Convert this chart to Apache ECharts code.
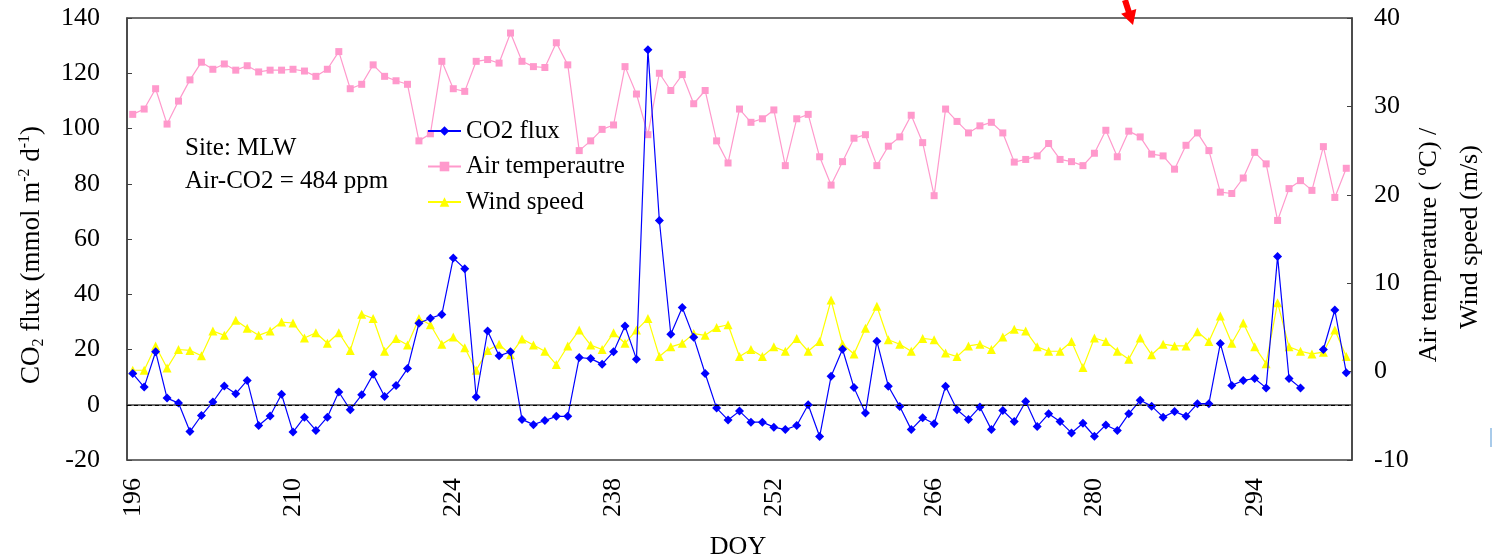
<!DOCTYPE html>
<html>
<head>
<meta charset="utf-8">
<script src="https://cdn.jsdelivr.net/npm/echarts@6/dist/echarts.min.js"></script>
<style>
  html, body { margin: 0; padding: 0; background: #fff; }
  #chart { width: 1495px; height: 560px; }
</style>
</head>
<body>
<div id="chart"></div>
<script>
// Day of year, one category per day
const doy = [
  196,197,198,199,200,201,202,203,204,205,206,207,208,209,
  210,211,212,213,214,215,216,217,218,219,220,221,222,223,
  224,225,226,227,228,229,230,231,232,233,234,235,236,237,
  238,239,240,241,242,243,244,245,246,247,248,249,250,251,
  252,253,254,255,256,257,258,259,260,261,262,263,264,265,
  266,267,268,269,270,271,272,273,274,275,276,277,278,279,
  280,281,282,283,284,285,286,287,288,289,290,291,292,293,
  294,295,296,297,298,299,300,301,302
];

// CO2 flux (mmol m-2 d-1); null = no measurement
const co2Flux = [
  11.3, 6.4, 19.2, 2.4, 0.6, -9.7, -3.9, 1.0, 6.8, 4.0, 8.8, -7.5, -4.1, 3.8,
  -9.9, -4.5, -9.3, -4.5, 4.6, -1.8, 3.6, 11.0, 3.0, 7.0, 13.1, 29.5, 31.3, 32.7,
  53.1, 49.2, 2.8, 26.7, 17.7, 19.2, -5.3, -7.2, -5.7, -4.2, -4.2, 17.1, 16.7, 14.7,
  19.2, 28.5, 16.5, 128.5, 66.7, 25.5, 35.2, 24.4, 11.3, -1.2, -5.5, -2.3, -6.3, -6.3,
  -8.1, -9.0, -7.5, 0, -11.5, 10.3, 20.1, 6.2, -3.0, 23.0, 6.7, -0.6, -9.0, -4.7,
  -6.9, 6.7, -1.8, -5.3, -0.8, -9.0, -2.1, -6.1, 1.2, -7.9, -3.3, -6.1, -10.2, -6.7,
  -11.4, -7.3, -9.3, -3.3, 1.6, -0.5, -4.5, -2.4, -4.2, 0.4, 0.4, 22.2, 7.0, 8.8,
  9.5, 6.1, 53.7, 9.5, 6.1, null, 20.0, 34.3, 11.6
];

// Air temperature (°C)
const airTemp = [
  29.1, 29.7, 32.0, 28.0, 30.6, 33.0, 35.0, 34.2, 34.8, 34.1, 34.6, 33.9, 34.1, 34.1,
  34.2, 34.0, 33.4, 34.2, 36.2, 32.0, 32.5, 34.7, 33.4, 32.9, 32.5, 26.1, 26.9, 35.1,
  32.0, 31.7, 35.1, 35.3, 34.9, 38.3, 35.1, 34.5, 34.4, 37.2, 34.7, 25.0, 26.1, 27.4,
  27.9, 34.5, 31.4, 26.8, 33.75, 31.8, 33.6, 30.3, 31.8, 26.1, 23.6, 29.7, 28.2, 28.6,
  29.6, 23.3, 28.6, 29.1, 24.3, 21.1, 23.75, 26.4, 26.8, 23.3, 25.5, 26.55, 29.0, 25.9,
  19.9, 29.7, 28.3, 27.0, 27.8, 28.2, 27.0, 23.7, 24.0, 24.4, 25.8, 24.0, 23.75, 23.3,
  24.7, 27.3, 24.3, 27.2, 26.55, 24.6, 24.4, 22.9, 25.6, 27.0, 25.0, 20.3, 20.15, 21.9,
  24.8, 23.5, 17.1, 20.7, 21.6, 20.5, 25.45, 19.7, 23.0
];

// Wind speed (m/s)
const windSpeed = [
  0.15, 0.15, 2.9, 0.4, 2.5, 2.4, 1.8, 4.6, 4.1, 5.8, 4.9, 4.1, 4.6, 5.6,
  5.5, 3.8, 4.4, 3.2, 4.4, 2.4, 6.5, 6.0, 2.3, 3.75, 3.0, 6.0, 5.3, 3.1,
  3.9, 2.7, 0.15, 2.4, 3.1, 1.9, 3.7, 3.0, 2.3, 0.8, 2.9, 4.7, 3.0, 2.5,
  4.4, 3.2, 4.7, 6.0, 1.7, 2.8, 3.2, 4.3, 4.1, 5.0, 5.3, 1.7, 2.5, 1.7,
  2.8, 2.3, 3.75, 2.3, 3.4, 8.1, 3.1, 2.0, 4.9, 7.4, 3.6, 3.1, 2.3, 3.75,
  3.6, 2.1, 1.7, 2.9, 3.1, 2.5, 3.9, 4.8, 4.6, 2.8, 2.3, 2.3, 3.4, 0.45,
  3.8, 3.4, 2.3, 1.4, 3.8, 1.9, 3.1, 2.9, 2.9, 4.5, 3.4, 6.3, 3.2, 5.5,
  2.8, 0.9, 7.8, 2.8, 2.3, 2.0, 2.2, 4.7, 1.7
];

const seriesNames = ['CO2 flux', 'Air temperautre', 'Wind speed'];

const FONT = "'Liberation Serif', 'Times New Roman', serif";
const frameColor = '#404040';

const chart = echarts.init(document.getElementById('chart'));

const supSub = {
  s: { fontSize: 16, fontFamily: FONT, color: '#000', verticalAlign: 'bottom', lineHeight: 30 },
  p: { fontSize: 16, fontFamily: FONT, color: '#000', verticalAlign: 'top', lineHeight: 30 }
};

chart.setOption({
  animation: false,
  backgroundColor: '#fff',
  grid: {
    left: 127, right: 143, top: 18, bottom: 100,
    show: true, borderColor: frameColor, borderWidth: 1.5, backgroundColor: '#fff'
  },
  legend: {
    orient: 'vertical',
    left: 422, top: 113,
    itemWidth: 33, itemHeight: 12, itemGap: 9.5,
    data: seriesNames,
    textStyle: { fontFamily: FONT, fontSize: 25, color: '#000', lineHeight: 26 }
  },
  xAxis: {
    type: 'category',
    data: doy,
    boundaryGap: true,
    axisLine: { show: true, lineStyle: { color: frameColor, width: 1.5 } },
    axisTick: { show: false },
    axisLabel: {
      interval: 13, rotate: 90, margin: 18,
      fontFamily: FONT, fontSize: 26, color: '#000'
    },
    splitLine: { show: false }
  },
  yAxis: [
    {
      type: 'value', position: 'left',
      min: -20, max: 140, interval: 20,
      axisLine: { show: true, lineStyle: { color: frameColor, width: 1.5 } },
      axisTick: { show: true, inside: true, length: 5, lineStyle: { color: frameColor } },
      axisLabel: { margin: 27, fontFamily: FONT, fontSize: 26, color: '#000' },
      splitLine: { show: false }
    },
    {
      type: 'value', position: 'right',
      min: -10, max: 40, interval: 10,
      axisLine: { show: true, lineStyle: { color: frameColor, width: 1.5 } },
      axisTick: { show: true, inside: true, length: 5, lineStyle: { color: frameColor } },
      axisLabel: { margin: 22, fontFamily: FONT, fontSize: 26, color: '#000' },
      splitLine: { show: false }
    }
  ],
  series: [
    {
      name: seriesNames[0], type: 'line', yAxisIndex: 0, z: 4,
      data: co2Flux, connectNulls: false,
      showAllSymbol: true,
      symbol: 'diamond', symbolSize: 9,
      itemStyle: { color: '#0000FF' },
      lineStyle: { color: '#0000FF', width: 1.2 },
      markLine: {
        silent: true, symbol: ['none', 'none'],
        label: { show: false },
        lineStyle: { color: '#000', type: [4, 3], width: 1 },
        data: [{ yAxis: 0 }]
      }
    },
    {
      name: seriesNames[1], type: 'line', yAxisIndex: 1, z: 2,
      data: airTemp,
      showAllSymbol: true,
      symbol: 'rect', symbolSize: 7,
      itemStyle: { color: '#FF99CC' },
      lineStyle: { color: '#FF99CC', width: 1.2 }
    },
    {
      name: seriesNames[2], type: 'line', yAxisIndex: 1, z: 3,
      data: windSpeed,
      showAllSymbol: true,
      symbol: 'triangle', symbolSize: 9,
      itemStyle: { color: '#FFFF00' },
      lineStyle: { color: '#FFFF00', width: 1.2 }
    }
  ],
  graphic: [
    {
      type: 'text', x: 32, y: 255, rotation: Math.PI / 2,
      style: {
        text: 'CO{s|2} flux (mmol m{p|-2} d{p|-1})',
        fontFamily: FONT, fontSize: 27, fill: '#000', lineHeight: 30,
        align: 'center', verticalAlign: 'middle', rich: supSub
      }
    },
    {
      type: 'text', x: 1429, y: 245, rotation: Math.PI / 2,
      style: {
        text: 'Air temperature ( {p|o}C) /',
        fontFamily: FONT, fontSize: 26, fill: '#000', lineHeight: 30,
        align: 'center', verticalAlign: 'middle', rich: supSub
      }
    },
    {
      type: 'text', x: 1470, y: 237, rotation: Math.PI / 2,
      style: {
        text: 'Wind speed (m/s)',
        fontFamily: FONT, fontSize: 26, fill: '#000',
        align: 'center', verticalAlign: 'middle'
      }
    },
    {
      type: 'text', x: 738, y: 547,
      style: {
        text: 'DOY', fontFamily: FONT, fontSize: 26, fill: '#000',
        align: 'center', verticalAlign: 'middle'
      }
    },
    {
      type: 'text', x: 185, y: 148,
      style: {
        text: 'Site: MLW', fontFamily: FONT, fontSize: 25, fill: '#000',
        align: 'left', verticalAlign: 'middle'
      }
    },
    {
      type: 'text', x: 185, y: 181,
      style: {
        text: 'Air-CO2 = 484 ppm', fontFamily: FONT, fontSize: 25, fill: '#000',
        align: 'left', verticalAlign: 'middle'
      }
    },
    {
      // red pointer arrow at the top edge
      type: 'polygon', z: 100,
      shape: {
        points: [[1122.1, 0.9], [1127.9, -0.9], [1131.5, 10.5], [1136.3, 9.0],
                 [1133, 25], [1121.1, 13.8], [1125.8, 12.3]]
      },
      style: { fill: '#FF0000' }
    },
    {
      type: 'line', z: 100,
      shape: { x1: 1491, y1: 428, x2: 1491, y2: 447 },
      style: { stroke: '#A9CBEA', lineWidth: 2 }
    }
  ]
});
</script>
</body>
</html>
